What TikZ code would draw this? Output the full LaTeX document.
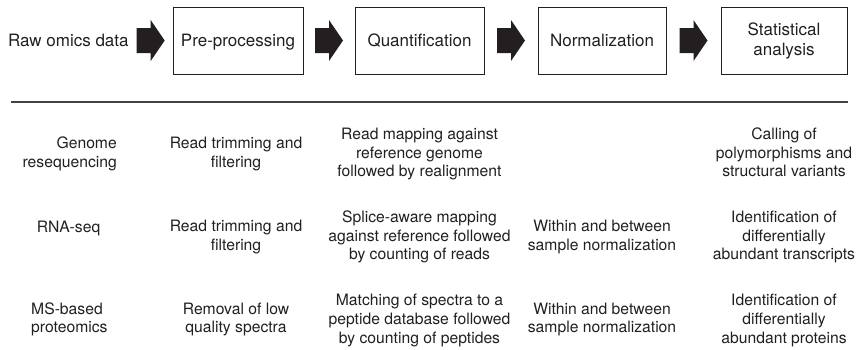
\documentclass[tikz,border=0pt]{standalone}
\usepackage{fontspec}
\setmainfont{TeX Gyre Heros}
\definecolor{ink}{HTML}{231F20}
\tikzset{
  hdr/.style={font=\fontsize{17}{20}\selectfont, text=ink, inner sep=0pt},
  stepbox/.style={draw=ink, line width=0.9pt, hdr, minimum height=67pt, text height=12.2pt, text depth=0pt},
  statbox/.style={draw=ink, line width=0.9pt, hdr, minimum height=67pt, align=center},
  cell/.style={font=\fontsize{15.7}{18.7}\selectfont, text=ink, inner sep=0pt, align=center, anchor=base},
  rulecol/.style={draw=ink!85, line width=1.3pt},
  blockarrow/.pic={\fill[ink] (-14,-12.5) -- (0,-12.5) -- (0,-20.5) -- (14,0) -- (0,20.5) -- (0,12.5) -- (-14,12.5) -- cycle;}
}
\begin{document}
\begin{tikzpicture}[x=1pt,y=-1pt]
\useasboundingbox (0,0) rectangle (859,349);
% header row
\node[hdr, anchor=base west] (raw) at (8,46.6) {Raw omics data};
\node[stepbox, minimum width=130pt] (pre) at (238,40.5) {Pre-processing};
\node[stepbox, minimum width=129pt] (quant) at (419.5,40.5) {Quantification};
\node[stepbox, minimum width=128pt] (norm) at (602,40.5) {Normalization};
\node[statbox, minimum width=126pt] (stat) at (784,40.5) {Statistical\\analysis};
% block arrows
\path (raw.east) -- (pre.west) coordinate[pos=0.5] (a1);
\path (pre.east) -- (quant.west) coordinate[pos=0.5] (a2);
\path (quant.east) -- (norm.west) coordinate[pos=0.5] (a3);
\path (norm.east) -- (stat.west) coordinate[pos=0.5] (a4);
\pic at (a1) {blockarrow};
\pic at (a2) {blockarrow};
\pic at (a3) {blockarrow};
\pic at (a4) {blockarrow};
% separator
\draw[rulecol] (11,102) -- (848,102);
% row 1 (anchor base = baseline of last line)
\node[cell, align=right, anchor=base east] (g0) at (117,167.2) {Genome\\resequencing};
\node[cell] (g1) at (236,167.2) {Read trimming and\\filtering};
\node[cell] (g2) at (419.5,176.9) {Read mapping against\\reference genome\\followed by realignment};
\node[cell] (g4) at (784,176.9) {Calling of\\polymorphisms and\\structural variants};
% row 2
\node[cell] (r0) at (68.5,232) {RNA-seq};
\node[cell] (r1) at (236,250.3) {Read trimming and\\filtering};
\node[cell] (r2) at (419.5,259.7) {Splice-aware mapping\\against reference followed\\by counting of reads};
\node[cell] (r3) at (602,250.3) {Within and between\\sample normalization};
\node[cell] (r4) at (784,259.7) {Identification of\\differentially\\abundant transcripts};
% row 3
\node[cell, align=left, anchor=base west] (m0) at (31,332.7) {MS-based\\proteomics};
\node[cell] (m1) at (236,332.7) {Removal of low\\quality spectra};
\node[cell] (m2) at (419.5,343) {Matching of spectra to a\\peptide database followed\\by counting of peptides};
\node[cell] (m3) at (602,332.7) {Within and between\\sample normalization};
\node[cell] (m4) at (784,343) {Identification of\\differentially\\abundant proteins};
\end{tikzpicture}
\end{document}
